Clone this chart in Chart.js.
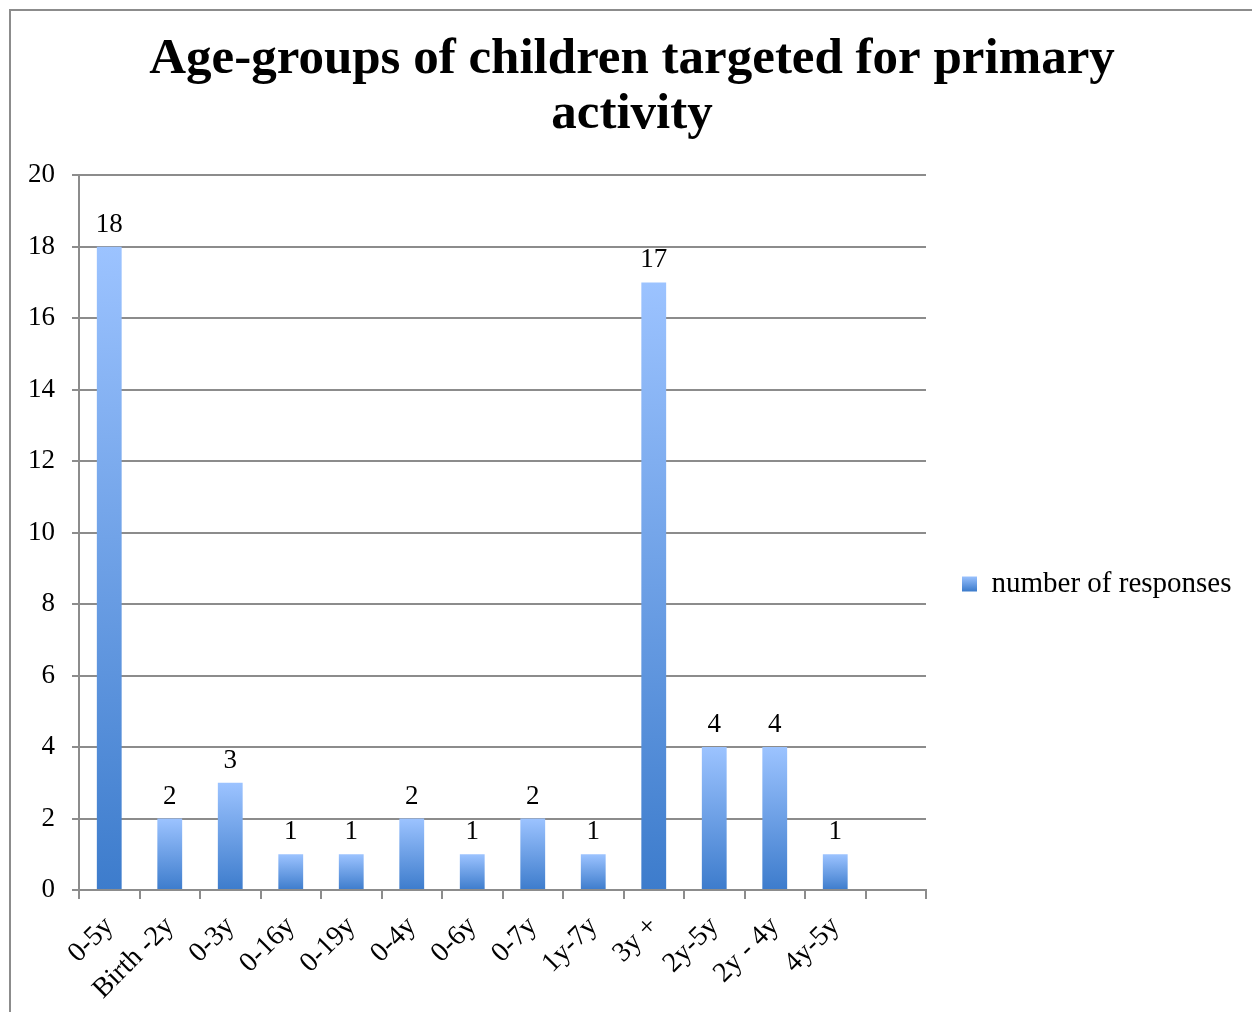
<!DOCTYPE html>
<html>
<head>
<meta charset="utf-8">
<script src="https://cdn.jsdelivr.net/npm/chart.js@4/dist/chart.umd.min.js"></script>
<style>
html,body{margin:0;padding:0;background:#fff;}
#wrap{position:relative;width:1252px;height:1012px;overflow:hidden;}
#frame{position:absolute;left:9px;top:9px;width:1260px;height:1020px;border-top:2px solid #8c8c8c;border-left:2px solid #8c8c8c;box-sizing:border-box;}
canvas{position:absolute;left:0;top:0;}
</style>
</head>
<body>
<div id="wrap">
<div id="frame"></div>
<canvas id="c" width="1252" height="1012"></canvas>
</div>
<script>
const categories = ['0-5y','Birth -2y','0-3y','0-16y','0-19y','0-4y','0-6y','0-7y','1y-7y','3y +','2y-5y','2y - 4y','4y-5y',''];
const responses = [18,2,3,1,1,2,1,2,1,17,4,4,1,null];
const titleLines = ['Age-groups of children targeted for primary','activity'];
const seriesName = 'number of responses';
const yTicks = [0,2,4,6,8,10,12,14,16,18,20];

const SERIF = '"Liberation Serif", "DejaVu Serif", serif';
const TOP_COL = '#9cc3ff';
const BOT_COL = '#3d7ccc';
const LEGEND_WIDTH = 312;
const LEGEND_DX = 26;
const LEGEND_DY = 62;

function barGradient(ctx){
  const chart = ctx.chart;
  if(ctx.type !== 'data') {
    const g = chart.ctx.createLinearGradient(0, 576, 0, 591);
    g.addColorStop(0, TOP_COL); g.addColorStop(1, BOT_COL);
    return g;
  }
  if(!chart.chartArea) return BOT_COL;
  const v = ctx.parsed ? ctx.parsed.y : null;
  if(v == null) return BOT_COL;
  const y = chart.scales.y;
  const top = y.getPixelForValue(v);
  const bot = y.getPixelForValue(0);
  const g = chart.ctx.createLinearGradient(0, top, 0, bot);
  g.addColorStop(0, TOP_COL);
  g.addColorStop(1, BOT_COL);
  return g;
}

const valueLabels = {
  id:'valueLabels',
  afterDatasetsDraw(chart){
    const c = chart.ctx;
    const meta = chart.getDatasetMeta(0);
    c.save();
    c.font = '27px ' + SERIF;
    c.fillStyle = '#000';
    c.textAlign = 'center';
    c.textBaseline = 'alphabetic';
    meta.data.forEach((el,i)=>{
      const v = responses[i];
      if(v == null) return;
      c.fillText(String(v), el.x, el.y - 15);
    });
    c.restore();
  }
};

const legendPlace = {
  id:'legendPlace',
  beforeLayout(chart){
    const lg = chart.legend;
    if(lg && !lg._patched){
      const orig = lg.fit.bind(lg);
      lg.fit = function(){ orig(); this.width = LEGEND_WIDTH; };
      lg._patched = true;
    }
  },
  afterLayout(chart){ if(chart.legend) chart.legend._shifted = false; },
  beforeDraw(chart){
    const lg = chart.legend;
    if(lg && !lg._shifted){
      lg.left += LEGEND_DX; lg.right += LEGEND_DX;
      lg.top += LEGEND_DY; lg.bottom += LEGEND_DY;
      lg._shifted = true;
    }
  }
};

new Chart(document.getElementById('c'), {
  type:'bar',
  data:{
    labels: categories,
    datasets:[{
      label: seriesName,
      data: responses,
      backgroundColor: barGradient,
      borderWidth: 0,
      barPercentage: 0.82,
      categoryPercentage: 0.5
    }]
  },
  options:{
    responsive:false,
    animation:false,
    devicePixelRatio:1,
    layout:{padding:{left:26,right:14,top:32,bottom:0}},
    plugins:{
      title:{
        display:true,
        text:titleLines,
        color:'#000',
        font:{family:SERIF, size:51, weight:'bold', lineHeight:1.08},
        padding:{top:0,bottom:33}
      },
      legend:{
        display:true,
        position:'right',
        labels:{
          color:'#000',
          font:{family:SERIF, size:29},
          boxWidth:15, boxHeight:15,
          padding:10,
          generateLabels(chart){
            return [{text:seriesName, fillStyle:barGradient({chart, type:'legend'}), strokeStyle:'rgba(0,0,0,0)', lineWidth:0, datasetIndex:0}];
          }
        }
      },
      tooltip:{enabled:false}
    },
    scales:{
      x:{
        offset:true,
        afterFit(scale){ scale.height = 122; },
        grid:{display:true, offset:true, drawOnChartArea:false, drawTicks:true, tickLength:9, color:'#8c8c8c', lineWidth:2},
        border:{display:true, color:'#8c8c8c', width:2},
        ticks:{color:'#000', font:{family:SERIF, size:28}, maxRotation:45, minRotation:45, padding:11, autoSkip:false}
      },
      y:{
        min:0, max:20,
        afterBuildTicks(scale){ scale.ticks = yTicks.map(v=>({value:v})); },
        afterFit(scale){ scale.width = 53; },
        grid:{color:'#8c8c8c', lineWidth:2, tickLength:7},
        border:{display:true, color:'#8c8c8c', width:2},
        ticks:{color:'#000', font:{family:SERIF, size:27}, padding:17}
      }
    }
  },
  plugins:[valueLabels, legendPlace]
});
</script>
</body>
</html>
